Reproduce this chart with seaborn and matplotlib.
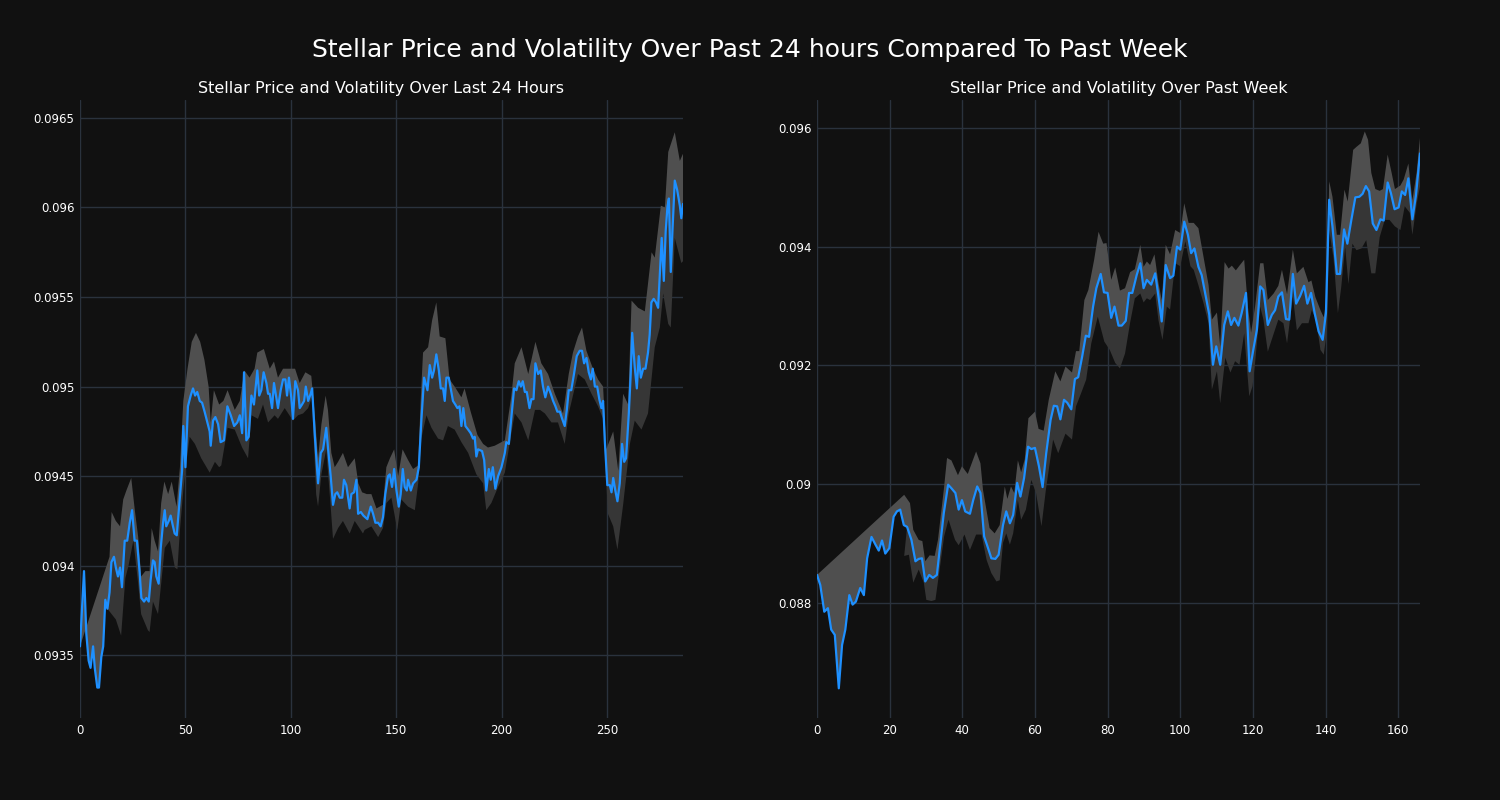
import numpy as np
import matplotlib
matplotlib.use("Agg")
import matplotlib.pyplot as plt
from matplotlib.ticker import MultipleLocator, FuncFormatter
import seaborn as sns

# ---------------- data: last 24 hours (5-minute index) ----------------
day_x = [0, 1.9, 3, 4.1, 5, 6.2, 7, 8.2, 9, 10.1, 11, 12, 13, 14, 14.9, 16.1, 17, 18, 19, 19.9,
         21.2, 22.4, 23.6, 24.7, 25.9, 27, 28.3, 29.1, 30.4, 31.5, 32.6, 33.5, 34.6, 35.4, 36.2, 37.3,
         38.3, 39.4, 40.2, 40.9, 42.1, 43, 44.1, 44.9, 45.9, 47.3, 48.4, 49, 50, 51.2, 52.5, 53.6,
         54.6, 55.6, 56.8, 57.9, 59.1, 60.4, 61.5, 62, 63.1, 64.2, 65.5, 66.7, 68.3, 69.9, 71.5, 73.1,
         74.6, 75.8, 76.9, 77.8, 78.9, 80, 81.3, 82.5, 84.1, 85, 86, 87.1, 88.4, 89.2, 90, 91.1, 92,
         93.9, 95.2, 96.3, 97.4, 98.2, 99.1, 100.2, 101, 102.1, 103.4, 104.2, 105.3, 106.3, 107.1,
         108.2, 109.4, 110.1, 111.3, 112.9, 114.2, 115.3, 116.8, 117.6, 118.9, 120, 121.1, 122,
         123.2, 124.4, 125.2, 126.3, 127.9, 128.7, 130, 131.1, 131.9, 133.2, 134.4, 136.3, 137.9,
         139, 140.1, 141.4, 142.6, 143.7, 144.8, 146.1, 146.9, 148, 149, 150.1, 151.2, 152.1, 153.1,
         154, 155, 155.6, 156.9, 158, 159.6, 160.7, 161.9, 163.2, 164.8, 165.9, 167, 167.9, 169,
         170.2, 171.1, 172.2, 173, 173.8, 174.9, 175.8, 176.9, 178, 179, 180, 180.9, 181.8, 182.8,
         184.1, 185.3, 186.4, 187.2, 188, 188.8, 190.7, 191.7, 192.7, 193.9, 194.8, 195.8, 197,
         198.3, 199.9, 201.5, 202.2, 203.4, 204.6, 205.9, 207, 208.1, 209.1, 210, 211, 211.9, 213.2,
         214.1, 215.1, 216, 217.3, 218.5, 219.6, 220.7, 222, 223.3, 224.4, 225.5, 226.4, 227.6,
         228.7, 229.9, 230.9, 231.8, 233, 234.3, 235.6, 237, 238.1, 239.1, 240.2, 241.3, 242.3,
         243.2, 244.2, 245.3, 246.3, 247.3, 248.1, 248.9, 250.1, 251.3, 252.1, 252.9, 253.9, 254.9,
         256, 257.1, 258.1, 259, 260.3, 261.2, 261.9, 263.1, 264.1, 265, 266, 267.1, 268.2, 269.4,
         270.2, 271, 272.1, 273.2, 274.2, 275.1, 275.9, 276.9, 277.8, 278.6, 279.3, 280.2, 281,
         282.1, 283.2, 284.5, 285.2, 286]
day_price = [0.09355, 0.09397, 0.09362, 0.09347, 0.09343, 0.09355, 0.09343, 0.09332, 0.09332, 0.09349,
             0.09355, 0.09381, 0.09376, 0.09385, 0.09402, 0.09405, 0.09399, 0.09394, 0.09399, 0.09388,
             0.09414, 0.09414, 0.09424, 0.09431, 0.09414, 0.09414, 0.09396, 0.09382, 0.0938, 0.09382,
             0.0938, 0.09392, 0.09403, 0.09402, 0.09394, 0.0939, 0.0941, 0.09424, 0.09431, 0.09422,
             0.09425, 0.09428, 0.09422, 0.09418, 0.09417, 0.09437, 0.09453, 0.09478, 0.09455, 0.09489,
             0.09495, 0.09499, 0.09495, 0.09497, 0.09492, 0.09491, 0.09486, 0.0948, 0.09475, 0.09467,
             0.09481, 0.09483, 0.09479, 0.09469, 0.0947, 0.09489, 0.09484, 0.09478, 0.0948, 0.09484,
             0.09474, 0.09508, 0.0947, 0.09472, 0.09495, 0.0949, 0.09509, 0.09495, 0.09498, 0.09508,
             0.09502, 0.09496, 0.09496, 0.09488, 0.09502, 0.09488, 0.09498, 0.09504, 0.09504, 0.09495,
             0.09505, 0.09494, 0.09482, 0.09503, 0.09498, 0.09488, 0.0949, 0.09492, 0.095, 0.09492,
             0.09496, 0.09499, 0.09474, 0.09446, 0.09463, 0.09465, 0.09477, 0.09466, 0.0945, 0.09434,
             0.0944, 0.09441, 0.09438, 0.09438, 0.09448, 0.09445, 0.09432, 0.0944, 0.09441, 0.09448,
             0.09429, 0.0943, 0.09428, 0.09426, 0.09433, 0.09429, 0.09424, 0.09424, 0.09422, 0.09427,
             0.0944, 0.0945, 0.09451, 0.09444, 0.09454, 0.09442, 0.09433, 0.0944, 0.09454, 0.09444,
             0.09442, 0.09448, 0.09442, 0.09446, 0.09448, 0.09455, 0.09481, 0.09505, 0.09498, 0.09512,
             0.09505, 0.09509, 0.09518, 0.09509, 0.09499, 0.09499, 0.09492, 0.09505, 0.09505, 0.09499,
             0.09492, 0.0949, 0.09488, 0.09489, 0.09478, 0.09488, 0.09478, 0.09476, 0.09474, 0.09471,
             0.09472, 0.09461, 0.09465, 0.09464, 0.09459, 0.09442, 0.09454, 0.09448, 0.09455, 0.09443,
             0.0945, 0.09455, 0.09463, 0.09469, 0.09468, 0.09483, 0.09499, 0.09498, 0.09503, 0.095,
             0.09503, 0.09497, 0.09497, 0.09488, 0.09493, 0.09493, 0.09513, 0.09507, 0.09509, 0.095,
             0.09494, 0.095, 0.09496, 0.09492, 0.09489, 0.09486, 0.09486, 0.09482, 0.09478, 0.09487,
             0.09498, 0.09498, 0.09507, 0.09517, 0.0952, 0.0952, 0.09513, 0.09516, 0.09508, 0.09504,
             0.0951, 0.095, 0.095, 0.09493, 0.09488, 0.09492, 0.0947, 0.09445, 0.09445, 0.09441,
             0.09449, 0.09442, 0.09436, 0.09446, 0.09468, 0.09458, 0.0946, 0.09485, 0.09507, 0.0953,
             0.09511, 0.09499, 0.09517, 0.09505, 0.0951, 0.0951, 0.09519, 0.09529, 0.09547, 0.09549,
             0.09547, 0.09544, 0.09565, 0.09583, 0.09559, 0.09587, 0.096, 0.09605, 0.09564, 0.09587,
             0.09615, 0.0961, 0.09601, 0.09594, 0.09602]

day_hi_x = [0, 14, 15, 17, 19, 20.5, 22, 24.3, 26, 27.6, 29, 31, 33, 34, 35.4, 37, 38.5, 40, 41.8,
            43.5, 45.8, 47.4, 49, 51, 53, 55, 57, 59, 61, 62, 63.5, 66, 68, 70, 73.4, 75.8, 78, 80.4,
            82.8, 84.1, 87.2, 90, 92, 93.9, 96.3, 98.6, 102, 104.2, 106.9, 109.7, 111.3, 112.9, 114.5,
            116.5, 117.6, 119.2, 120.8, 122.4, 124.7, 127.1, 130.3, 132, 133.8, 136, 138.2, 140.6,
            143.7, 145.3, 147, 149, 150.9, 153, 155.6, 158, 160.4, 161.5, 162.7, 165.1, 167, 169,
            170.6, 173.3, 175.3, 177.7, 180.9, 182.4, 185.3, 188.5, 191.2, 193.5, 196.7, 199.9, 201.5,
            204.6, 206.2, 209.4, 212.6, 216, 218.8, 222, 225.2, 229.1, 231.8, 233.8, 236.2, 238.1,
            240.2, 243.3, 245.7, 248.1, 249.6, 252.9, 255.3, 257.6, 260, 261.6, 264.7, 267.9, 271.1,
            272.6, 275.5, 277.4, 279, 282.1, 284.5, 286]
day_hi = [0.09355, 0.09405, 0.0943, 0.09425, 0.09422, 0.09437, 0.09442, 0.09449, 0.09431, 0.09416,
          0.09394, 0.09397, 0.09397, 0.09421, 0.09414, 0.09408, 0.09435, 0.09447, 0.0944, 0.09447,
          0.09433, 0.09455, 0.09492, 0.0951, 0.09525, 0.0953, 0.09525, 0.09515, 0.095, 0.0948,
          0.09498, 0.0949, 0.09492, 0.09498, 0.09487, 0.09492, 0.09509, 0.09505, 0.0951, 0.09519,
          0.09521, 0.0951, 0.09514, 0.09505, 0.0951, 0.0951, 0.0951, 0.09502, 0.09508, 0.09506,
          0.09485, 0.0946, 0.09479, 0.09495, 0.09487, 0.09463, 0.09455, 0.09458, 0.09463, 0.09455,
          0.0946, 0.09446, 0.09441, 0.0944, 0.0944, 0.09432, 0.09434, 0.09455, 0.0946, 0.09465,
          0.0945, 0.09465, 0.09459, 0.09454, 0.09456, 0.0949, 0.09519, 0.09522, 0.09537, 0.09547,
          0.09528, 0.09527, 0.09504, 0.095, 0.09494, 0.09499, 0.09486, 0.09473, 0.09468, 0.09466,
          0.09467, 0.09469, 0.0947, 0.09495, 0.09513, 0.09522, 0.09507, 0.09525, 0.09513, 0.09507,
          0.09496, 0.09485, 0.09507, 0.09519, 0.09528, 0.09533, 0.0952, 0.0951, 0.09504, 0.095,
          0.09465, 0.09475, 0.09453, 0.09496, 0.0949, 0.09548, 0.09544, 0.09542, 0.09575, 0.09572,
          0.09601, 0.096, 0.09631, 0.09642, 0.09626, 0.0963]

day_lo_x = [13, 15, 17, 19.5, 21.5, 23, 25.3, 27.6, 29, 32.2, 33, 34.6, 37, 38.5, 40.2, 42.6, 45, 46.2,
            47.4, 49, 50, 52, 54.5, 57.5, 61.5, 64, 66, 67, 70, 73.4, 76.9, 79.7, 81.3, 84.4, 86.8,
            89.2, 92.3, 93.9, 97.1, 101, 103.4, 105.8, 108.2, 110, 112, 112.9, 114.5, 116.8, 118.9,
            120, 122.4, 124.7, 127.9, 130.3, 132, 134.2, 135, 138.2, 141.4, 143.7, 145.3, 147.7,
            150.5, 152.4, 155.6, 158.8, 160.4, 161.9, 164.3, 166.7, 169.8, 172.2, 174.5, 177.7,
            180.9, 184.1, 188, 191.2, 192.7, 195.1, 198.3, 200.7, 201.5, 204.6, 206.2, 209.4, 212.6,
            215.8, 218.2, 220.5, 223.6, 226.7, 229.9, 231.8, 236.2, 239.4, 242.6, 245.7, 248.1, 250.4,
            252.9, 254.9, 257.6, 260.8, 263.1, 266.3, 269.4, 272.6, 275, 276.6, 279, 280.2, 282.1,
            285.2, 286]
day_lo = [0.09376, 0.09373, 0.0937, 0.09361, 0.09393, 0.094, 0.09414, 0.0939, 0.09373, 0.09364,
          0.09363, 0.0938, 0.09373, 0.0939, 0.0941, 0.09414, 0.09399, 0.09398, 0.0942, 0.09442,
          0.09453, 0.09472, 0.09468, 0.0946, 0.09452, 0.09458, 0.09455, 0.09456, 0.09477, 0.09476,
          0.09466, 0.0946, 0.09484, 0.09482, 0.0949, 0.0948, 0.09484, 0.09482, 0.09488, 0.09481,
          0.09484, 0.09485, 0.09488, 0.09494, 0.0944, 0.09433, 0.09451, 0.09465, 0.09433, 0.09415,
          0.09421, 0.09425, 0.09418, 0.09425, 0.09422, 0.09418, 0.0942, 0.09422, 0.09416, 0.09421,
          0.09435, 0.09438, 0.0942, 0.09437, 0.09433, 0.09431, 0.09446, 0.09471, 0.09484, 0.09477,
          0.09471, 0.0947, 0.09478, 0.09476, 0.09469, 0.09463, 0.09451, 0.09446, 0.09431, 0.09435,
          0.09444, 0.0945, 0.09452, 0.09474, 0.09485, 0.0948, 0.0947, 0.09487, 0.09487, 0.09485,
          0.0948, 0.0948, 0.09468, 0.09485, 0.09507, 0.09504, 0.09496, 0.09489, 0.09482, 0.09429,
          0.09422, 0.09409, 0.09434, 0.09468, 0.09481, 0.09476, 0.09485, 0.09522, 0.09533, 0.09552,
          0.09535, 0.09533, 0.09583, 0.09569, 0.0957]

# ---------------- data: past week (hourly index) ----------------
week_x = [0, 0.9, 2, 3, 3.9, 4.9, 6, 6.9, 7.8, 8.9, 9.8, 10.7, 11.9, 12.9, 13.8, 15, 16.1, 17, 17.9,
          18.8, 19.9, 21.1, 22, 22.9, 23.9, 24.8, 26, 27.1, 28, 28.9, 29.8, 30.9, 31.9, 33, 34, 34.9,
          36.1, 37, 38.1, 39, 39.9, 40.8, 42.1, 43, 44.1, 45, 46, 47.1, 48, 49.1, 50, 51.2, 52.1,
          53.1, 54, 55.1, 56, 57, 58.1, 59, 60, 61.1, 62.1, 63.1, 64.3, 65.2, 66.1, 67, 68, 68.9, 70,
          71, 71.9, 73, 74, 74.9, 76, 76.9, 78.1, 79, 80, 81, 81.9, 83, 83.9, 85, 85.9, 86.8, 88, 89,
          89.9, 90.8, 92, 93.1, 94, 94.9, 96, 97.2, 98.1, 99.1, 100, 101.1, 102.1, 103, 103.9, 105,
          105.9, 107, 108, 109, 109.9, 111, 112.1, 113.1, 114, 114.9, 116, 116.9, 118.1, 119.1, 120.1,
          121.1, 122, 122.9, 124.1, 125.2, 126.1, 127, 128, 129.1, 130, 131, 131.9, 133, 134.1, 135,
          136, 137, 138.1, 139.2, 140.1, 141, 141.9, 143.1, 144, 145.1, 146, 147.1, 148.2, 149.3,
          150.2, 151.1, 152, 153, 154, 155.1, 156, 157.1, 158, 159, 160.1, 161, 161.9, 162.8, 163.9,
          164.9, 166]
week_price = [0.08847, 0.0883, 0.08785, 0.08791, 0.08755, 0.08746, 0.08656, 0.08729, 0.08755, 0.08813,
              0.08797, 0.08802, 0.08825, 0.08813, 0.08875, 0.08911, 0.08898, 0.08888, 0.08905,
              0.08883, 0.08892, 0.08945, 0.08954, 0.08957, 0.08931, 0.08928, 0.08906, 0.0887, 0.08874,
              0.08875, 0.08836, 0.08847, 0.08842, 0.08847, 0.08901, 0.08951, 0.08999, 0.08993,
              0.08985, 0.08957, 0.08973, 0.08954, 0.0895, 0.08973, 0.08996, 0.08985, 0.08912,
              0.08892, 0.08875, 0.08874, 0.08881, 0.08931, 0.08954, 0.08934, 0.08948, 0.09002,
              0.08979, 0.0901, 0.09063, 0.09059, 0.09061, 0.0903, 0.08995, 0.09052, 0.09108, 0.09132,
              0.09131, 0.09109, 0.09142, 0.09137, 0.09126, 0.09177, 0.0918, 0.09215, 0.0925, 0.09248,
              0.09299, 0.0933, 0.09354, 0.09323, 0.09322, 0.0928, 0.09299, 0.09267, 0.09267, 0.09275,
              0.09322, 0.09322, 0.09352, 0.09372, 0.0933, 0.09344, 0.09336, 0.09355, 0.09316,
              0.09274, 0.09369, 0.09347, 0.09351, 0.094, 0.09395, 0.09442, 0.0942, 0.09389, 0.09397,
              0.09366, 0.09352, 0.09317, 0.09285, 0.09201, 0.09232, 0.09201, 0.09268, 0.09291,
              0.09268, 0.0928, 0.09267, 0.09288, 0.09322, 0.0919, 0.09226, 0.0926, 0.09333, 0.09327,
              0.09268, 0.09285, 0.09293, 0.09316, 0.09323, 0.09278, 0.09277, 0.09354, 0.09304,
              0.09317, 0.09334, 0.09304, 0.09322, 0.09288, 0.09257, 0.09243, 0.09288, 0.09479,
              0.09434, 0.09354, 0.09354, 0.09429, 0.09405, 0.09445, 0.09483, 0.09484, 0.09489,
              0.09502, 0.09493, 0.09439, 0.09428, 0.09446, 0.09444, 0.09508, 0.0949, 0.09463,
              0.09466, 0.09493, 0.09487, 0.09515, 0.09446, 0.09487, 0.09557]

week_hi_x = [0, 24, 25.6, 26.5, 28, 29, 29.8, 31, 32.4, 33.3, 34.9, 35.8, 37, 38.8, 39.9, 41.5, 43.8,
             45, 45.7, 47.5, 48.9, 50.3, 51.7, 52.4, 53.4, 54.3, 55.3, 56.2, 57.2, 58.2, 60, 61, 62.4,
             63.8, 65.6, 67, 68.4, 70.2, 71.3, 72.2, 73.6, 74.7, 76.3, 77.5, 78.8, 79.7, 81, 82.1,
             83.4, 84.8, 86.2, 87.5, 89, 89.9, 90.8, 91.7, 92.9, 94, 94.9, 96, 97.2, 98.6, 100, 101.1,
             102.3, 103.7, 105, 106.4, 107.8, 108.7, 110.1, 111, 112.2, 113.3, 114.2, 115.3, 116.3,
             117.6, 118.6, 119.5, 120.6, 122, 122.9, 124.1, 125.7, 127, 128, 129.4, 131, 132.1, 133.9,
             135.3, 136.1, 137.2, 138.6, 139.5, 140.4, 141, 141.9, 143.1, 144, 145.2, 146.1, 147.6,
             148.5, 149.7, 150.8, 151.7, 152.6, 153.7, 154.9, 155.8, 157.1, 158.2, 159.1, 160.6,
             161.5, 162.8, 163.9, 165.1, 166]
week_hi = [0.08847, 0.08982, 0.08968, 0.08923, 0.08906, 0.08904, 0.0887, 0.0888, 0.08879, 0.08906,
           0.0899, 0.09044, 0.0904, 0.09015, 0.0903, 0.09017, 0.09055, 0.09035, 0.0899, 0.08926,
           0.08917, 0.08931, 0.08996, 0.08975, 0.08996, 0.08985, 0.0904, 0.0902, 0.09042, 0.09111,
           0.09122, 0.09093, 0.0909, 0.09142, 0.0919, 0.09173, 0.09198, 0.09188, 0.09224, 0.09224,
           0.0931, 0.09327, 0.09378, 0.09425, 0.09405, 0.09406, 0.09344, 0.09365, 0.09326, 0.0933,
           0.09357, 0.09362, 0.09403, 0.09366, 0.09375, 0.09369, 0.09387, 0.09339, 0.0931, 0.09403,
           0.09387, 0.09428, 0.09423, 0.09473, 0.0944, 0.0944, 0.09431, 0.09383, 0.09335, 0.09277,
           0.09289, 0.09232, 0.09374, 0.09363, 0.09368, 0.0936, 0.09368, 0.09378, 0.093, 0.09255,
           0.09299, 0.09372, 0.09372, 0.0931, 0.09321, 0.09334, 0.09361, 0.0932, 0.09395, 0.09355,
           0.09366, 0.0934, 0.09343, 0.09315, 0.09293, 0.09281, 0.09315, 0.0951, 0.09484, 0.0942,
           0.0942, 0.09496, 0.09476, 0.09563, 0.09568, 0.09574, 0.09594, 0.0958, 0.09524, 0.09497,
           0.09494, 0.09497, 0.09555, 0.09524, 0.09497, 0.09503, 0.09513, 0.0954, 0.09478, 0.09526,
           0.09583]

week_lo_x = [24, 25.3, 26.5, 28, 29.4, 30.1, 31.5, 32.6, 34, 35, 36.2, 38, 39, 40.6, 42.1, 43.8, 45.3,
             46.7, 48, 49.4, 50.3, 51.2, 52.1, 53.1, 54, 55.3, 56.2, 57.5, 59, 60.3, 61.8, 63, 65,
             66.4, 68.4, 70.2, 71.3, 72.7, 74.1, 75.5, 77.3, 79.1, 80.6, 82.1, 83.4, 84.8, 86.2, 87.5,
             89, 89.9, 90.8, 91.7, 93.1, 94, 95.1, 96.3, 97.2, 98.6, 100, 101.4, 102.8, 103.7, 105,
             106.4, 107.8, 108.7, 110.1, 111, 112.4, 113.8, 115.1, 116.3, 117.6, 119, 119.9, 120.6,
             122, 122.9, 124.1, 125.7, 127, 128.4, 129.4, 131, 132.1, 133.5, 135.3, 136.2, 137.4,
             138.6, 139.5, 140.4, 141, 142.2, 143.4, 144.3, 145.4, 146.3, 147.4, 148.5, 149.9, 151.2,
             152.6, 153.7, 154.9, 156.3, 157.6, 159.1, 160.6, 161.8, 163.2, 163.9, 165.1, 166]
week_lo = [0.08879, 0.08881, 0.08834, 0.08856, 0.08834, 0.08805, 0.08803, 0.08805, 0.08867, 0.08912,
           0.0894, 0.08906, 0.08897, 0.08915, 0.08889, 0.08915, 0.08915, 0.08872, 0.0885, 0.08836,
           0.08838, 0.08901, 0.08917, 0.08898, 0.08917, 0.08973, 0.0894, 0.08957, 0.09007, 0.08985,
           0.08929, 0.0899, 0.09075, 0.09052, 0.09085, 0.09075, 0.09131, 0.09153, 0.09176, 0.09237,
           0.09282, 0.0924, 0.09226, 0.09204, 0.09195, 0.0922, 0.09272, 0.09313, 0.09321, 0.09306,
           0.09313, 0.0931, 0.09321, 0.09276, 0.09243, 0.09299, 0.09294, 0.09372, 0.09367, 0.09409,
           0.09367, 0.09361, 0.09335, 0.09305, 0.09271, 0.09159, 0.0919, 0.09136, 0.09213, 0.09188,
           0.09207, 0.09201, 0.09254, 0.09148, 0.09165, 0.09204, 0.09299, 0.09277, 0.09223, 0.09253,
           0.09277, 0.09271, 0.09237, 0.09316, 0.09259, 0.09271, 0.09271, 0.09293, 0.09277, 0.09226,
           0.09218, 0.09259, 0.09428, 0.0938, 0.09288, 0.09331, 0.094, 0.09337, 0.09405, 0.09394,
           0.09397, 0.09411, 0.09355, 0.09355, 0.09416, 0.09445, 0.09445, 0.09434, 0.09428, 0.09468,
           0.09457, 0.0942, 0.09473, 0.09501]

suptitle = "Stellar Price and Volatility Over Past 24 hours Compared To Past Week"
title_day = "Stellar Price and Volatility Over Last 24 Hours"
title_week = "Stellar Price and Volatility Over Past Week"

# ---------------- style ----------------
BG = "#111111"
GRID = "#2a323d"
LINE = "#1e90ff"
LIGHT = "#4f4f4f"
DARK = "#363636"

sns.set_theme(style="darkgrid", rc={
    "figure.facecolor": BG, "axes.facecolor": BG, "axes.edgecolor": BG,
    "grid.color": GRID, "grid.linewidth": 1.0,
    "text.color": "white", "xtick.color": "white", "ytick.color": "white",
    "axes.labelcolor": "white",
})
plt.rcParams["font.family"] = ["DejaVu Sans"]

fig = plt.figure(figsize=(15, 8), dpi=100)
ax1 = fig.add_axes([80 / 1500, 1 - 718 / 800, 603 / 1500, 618 / 800])
ax2 = fig.add_axes([817 / 1500, 1 - 718 / 800, 603 / 1500, 618 / 800])


def draw(ax, x, y, hx, hy, lx, ly, xlim, ylim, ystep, xstep, title):
    x = np.asarray(x); y = np.asarray(y)
    # upper (lighter) band: polygon between price line and upper bound
    ax.fill(np.concatenate([x, np.asarray(hx)[::-1]]),
            np.concatenate([y, np.asarray(hy)[::-1]]),
            color=LIGHT, linewidth=0, zorder=1)
    # lower (darker) band: polygon between price line and lower bound
    m = (x >= lx[0]) & (x <= lx[-1])
    ax.fill(np.concatenate([x[m], np.asarray(lx)[::-1]]),
            np.concatenate([y[m], np.asarray(ly)[::-1]]),
            color=DARK, linewidth=0, zorder=1)
    sns.lineplot(x=x, y=y, ax=ax, color=LINE, linewidth=1.6, zorder=3, sort=False)
    ax.set_xlim(*xlim)
    ax.set_ylim(*ylim)
    ax.yaxis.set_major_locator(MultipleLocator(ystep))
    ax.xaxis.set_major_locator(MultipleLocator(xstep))
    ax.yaxis.set_major_formatter(FuncFormatter(lambda v, p: f"{round(v, 6):g}"))
    ax.tick_params(labelsize=8.5, length=0, pad=4, colors="white")
    for s in ax.spines.values():
        s.set_visible(False)
    ax.grid(True, color=GRID, linewidth=1.0)
    ax.set_axisbelow(True)
    ax.set_xlabel("")
    ax.set_ylabel("")
    ax.set_title(title, color="white", fontsize=11.5, pad=5)


draw(ax1, day_x, day_price, day_hi_x, day_hi, day_lo_x, day_lo,
     (0, 286), (0.09315, 0.0966), 0.0005, 50, title_day)
draw(ax2, week_x, week_price, week_hi_x, week_hi, week_lo_x, week_lo,
     (0, 166), (0.08606, 0.09647), 0.002, 20, title_week)

fig.suptitle(suptitle, color="white", fontsize=18, y=1 - 50 / 800, va="center")

fig.savefig("out.png", dpi=100, facecolor=BG)
